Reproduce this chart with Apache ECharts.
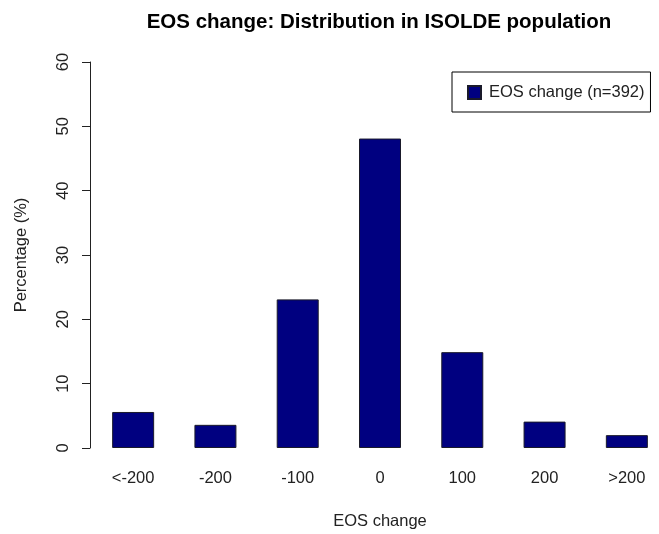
<!DOCTYPE html>
<html>
<head>
<meta charset="utf-8">
<script src="https://cdn.jsdelivr.net/npm/echarts@6/dist/echarts.min.js"></script>
<style>
html,body{margin:0;padding:0;background:#fff;}
#chart{width:659px;height:534px;}
</style>
</head>
<body>
<div id="chart"></div>
<script>
const categories = ['<-200', '-200', '-100', '0', '100', '200', '>200'];
const percentages = [5.6, 3.6, 23.1, 48.1, 14.9, 4.1, 2.0];
const yTicks = [0, 10, 20, 30, 40, 50, 60];
const seriesName = 'EOS change (n=392)';

const font = '"Liberation Sans", Arial, sans-serif';
const chart = echarts.init(document.getElementById('chart'), null, {renderer: 'canvas'});
chart.setOption({
  backgroundColor: '#ffffff',
  animation: false,
  title: {
    text: 'EOS change: Distribution in ISOLDE population',
    left: 374, top: 7, textAlign: 'center',
    textStyle: {fontFamily: font, fontSize: 20.5, fontWeight: 'bold', color: '#000'}
  },
  legend: {
    data: [seriesName],
    left: 452, top: 72,
    padding: [12, 6, 11, 15],
    itemWidth: 13, itemHeight: 13, itemGap: 10,
    borderColor: '#000', borderWidth: 1, borderRadius: 0,
    textStyle: {fontFamily: font, fontSize: 16.5, color: '#222', padding: [0,0,0,3]},
    icon: 'rect'
  },
  grid: {left: 92, top: 62, width: 576, height: 386, containLabel: false, outerBoundsMode: 'none'},
  xAxis: {
    type: 'category',
    data: categories,
    boundaryGap: true,
    axisLine: {show: false},
    axisTick: {show: false},
    axisLabel: {fontFamily: font, fontSize: 16.5, color: '#222', margin: 22},
    name: 'EOS change',
    nameLocation: 'middle',
    nameGap: 65,
    nameTextStyle: {fontFamily: font, fontSize: 16.5, color: '#222'}
  },
  yAxis: {
    type: 'value',
    min: yTicks[0], max: yTicks[yTicks.length - 1], interval: 10,
    offset: 2,
    axisLine: {show: true, lineStyle: {color: '#222', width: 1}},
    axisTick: {show: true, inside: false, length: 8, lineStyle: {color: '#222'}},
    splitLine: {show: false},
    axisLabel: {fontFamily: font, fontSize: 16.5, color: '#222', rotate: 90, margin: 18},
    name: 'Percentage (%)',
    nameLocation: 'middle',
    nameGap: 60,
    nameTextStyle: {fontFamily: font, fontSize: 16.5, color: '#222'}
  },
  series: [{
    name: seriesName,
    type: 'bar',
    data: percentages,
    barWidth: 42,
    itemStyle: {color: '#000080', borderColor: '#1a1a2a', borderWidth: 1}
  }]
});
</script>
</body>
</html>
